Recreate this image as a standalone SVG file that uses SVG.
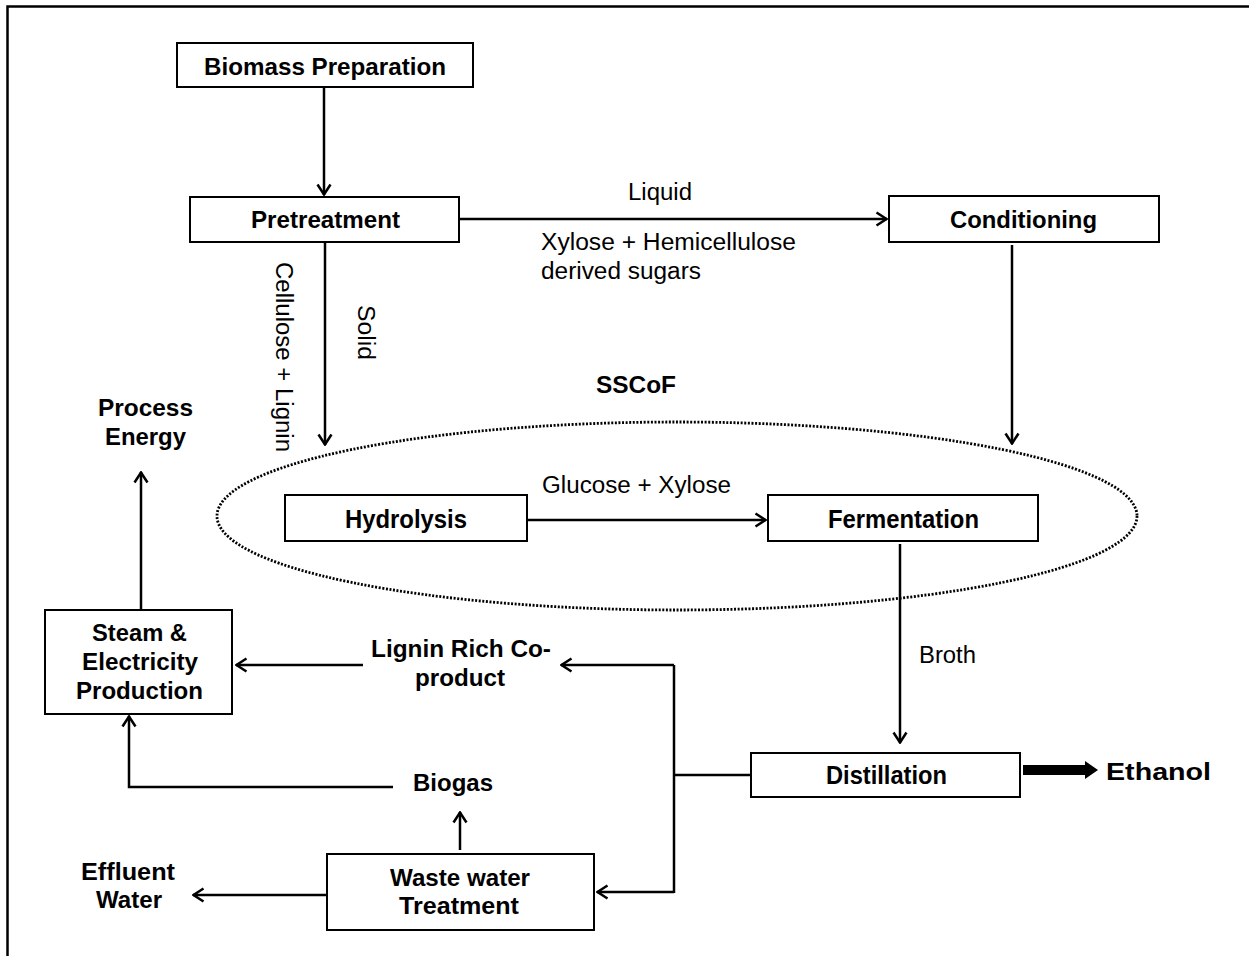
<svg xmlns="http://www.w3.org/2000/svg" width="1249" height="956" viewBox="0 0 1249 956">
<style>
.box{fill:#fff;stroke:#000;stroke-width:2}
.b{font-family:"Liberation Sans",Arial,sans-serif;font-weight:bold;font-size:23.5px;fill:#000}
.n{font-size:26px}
.r{font-family:"Liberation Sans",Arial,sans-serif;font-size:23px;fill:#000}
.c{fill:none;stroke:#000;stroke-width:2.5}
</style>
<defs>
<marker id="ah" markerUnits="userSpaceOnUse" viewBox="0 0 13 16" refX="12" refY="8" markerWidth="13" markerHeight="16" orient="auto">
<path d="M1.5,1.5 L11.5,8 L1.5,14.5" fill="none" stroke="#000" stroke-width="2.5"/>
</marker>
</defs>
<rect width="1249" height="956" fill="#fff"/>
<path d="M7.5 956 V6.5 H1249" fill="none" stroke="#000" stroke-width="2.5"/>

<g id="connectors">
<path class="c" d="M324 87 V195" marker-end="url(#ah)"/>
<path class="c" d="M459 219 H887" marker-end="url(#ah)"/>
<path class="c" d="M325 242 V445" marker-end="url(#ah)"/>
<path class="c" d="M1012 245 V444" marker-end="url(#ah)"/>
<path class="c" d="M527 520 H766" marker-end="url(#ah)"/>
<path class="c" d="M900 544 V743" marker-end="url(#ah)"/>
<path class="c" d="M751 775 H674"/>
<path class="c" d="M674 665 V893"/>
<path class="c" d="M674 665 H561" marker-end="url(#ah)"/>
<path class="c" d="M674 892 H597" marker-end="url(#ah)"/>
<path class="c" d="M363 665 H236" marker-end="url(#ah)"/>
<path class="c" d="M393 787 H129 V716" marker-end="url(#ah)"/>
<path class="c" d="M460 850 V812" marker-end="url(#ah)"/>
<path class="c" d="M327 895 H193" marker-end="url(#ah)"/>
<path class="c" d="M141 610 V472" marker-end="url(#ah)"/>
<path d="M1023 765 H1085 V761 L1098 770 L1085 779 V775 H1023 Z" fill="#000"/>
<text class="r" x="660" y="200" text-anchor="middle" textLength="64" lengthAdjust="spacingAndGlyphs">Liquid</text>
<text class="r" x="541" y="250" textLength="255" lengthAdjust="spacingAndGlyphs">Xylose + Hemicellulose</text>
<text class="r" x="541" y="279" textLength="160" lengthAdjust="spacingAndGlyphs">derived sugars</text>
<text class="r" transform="translate(276 262) rotate(90)" textLength="190" lengthAdjust="spacingAndGlyphs">Cellulose + Lignin</text>
<text class="r" transform="translate(358 305) rotate(90)" textLength="55" lengthAdjust="spacingAndGlyphs">Solid</text>
<text class="r" x="542" y="493" font-size="25" textLength="189" lengthAdjust="spacingAndGlyphs">Glucose + Xylose</text>
<text class="r" x="919" y="663" font-size="25" textLength="57" lengthAdjust="spacingAndGlyphs">Broth</text>
</g>

<g id="sscof">
<ellipse cx="677" cy="516" rx="460" ry="94" fill="none" stroke="#000" stroke-width="2.8" stroke-dasharray="2 1.6"/>
<text class="b" x="596" y="393" textLength="80" lengthAdjust="spacingAndGlyphs">SSCoF</text>
</g>

<g id="biomass">
<rect class="box" x="177" y="43" width="296" height="44"/>
<text class="b" x="204" y="75" textLength="242" lengthAdjust="spacingAndGlyphs">Biomass Preparation</text>
</g>
<g id="pretreatment">
<rect class="box" x="190" y="197" width="269" height="45"/>
<text class="b" x="251" y="228" textLength="149" lengthAdjust="spacingAndGlyphs">Pretreatment</text>
</g>
<g id="conditioning">
<rect class="box" x="889" y="196" width="270" height="46"/>
<text class="b" x="950" y="228" textLength="147" lengthAdjust="spacingAndGlyphs">Conditioning</text>
</g>
<g id="hydrolysis">
<rect class="box" x="285" y="495" width="242" height="46"/>
<text class="b n" x="345" y="528" textLength="122" lengthAdjust="spacingAndGlyphs">Hydrolysis</text>
</g>
<g id="fermentation">
<rect class="box" x="768" y="495" width="270" height="46"/>
<text class="b n" x="828" y="528" textLength="151" lengthAdjust="spacingAndGlyphs">Fermentation</text>
</g>
<g id="distillation">
<rect class="box" x="751" y="753" width="269" height="44"/>
<text class="b n" x="826" y="784" textLength="121" lengthAdjust="spacingAndGlyphs">Distillation</text>
</g>
<g id="ethanol">
<text class="b" x="1106" y="780" font-size="28" textLength="105" lengthAdjust="spacingAndGlyphs">Ethanol</text>
</g>
<g id="steam">
<rect class="box" x="45" y="610" width="187" height="104"/>
<text class="b" x="92" y="641" textLength="95" lengthAdjust="spacingAndGlyphs">Steam &amp;</text>
<text class="b" x="82" y="670" textLength="116" lengthAdjust="spacingAndGlyphs">Electricity</text>
<text class="b" x="76" y="699" textLength="127" lengthAdjust="spacingAndGlyphs">Production</text>
</g>
<g id="process-energy">
<text class="b" x="98" y="416" textLength="95" lengthAdjust="spacingAndGlyphs">Process</text>
<text class="b" x="105" y="445" textLength="81" lengthAdjust="spacingAndGlyphs">Energy</text>
</g>
<g id="lignin">
<text class="b" x="371" y="657" textLength="180" lengthAdjust="spacingAndGlyphs">Lignin Rich Co-</text>
<text class="b" x="415" y="686" textLength="90" lengthAdjust="spacingAndGlyphs">product</text>
</g>
<g id="biogas">
<text class="b" x="413" y="791" textLength="80" lengthAdjust="spacingAndGlyphs">Biogas</text>
</g>
<g id="wastewater">
<rect class="box" x="327" y="854" width="267" height="76"/>
<text class="b" x="390" y="886" textLength="140" lengthAdjust="spacingAndGlyphs">Waste water</text>
<text class="b" x="399" y="914" textLength="120" lengthAdjust="spacingAndGlyphs">Treatment</text>
</g>
<g id="effluent">
<text class="b" x="81" y="880" textLength="94" lengthAdjust="spacingAndGlyphs">Effluent</text>
<text class="b" x="96" y="908" textLength="66" lengthAdjust="spacingAndGlyphs">Water</text>
</g>
</svg>
